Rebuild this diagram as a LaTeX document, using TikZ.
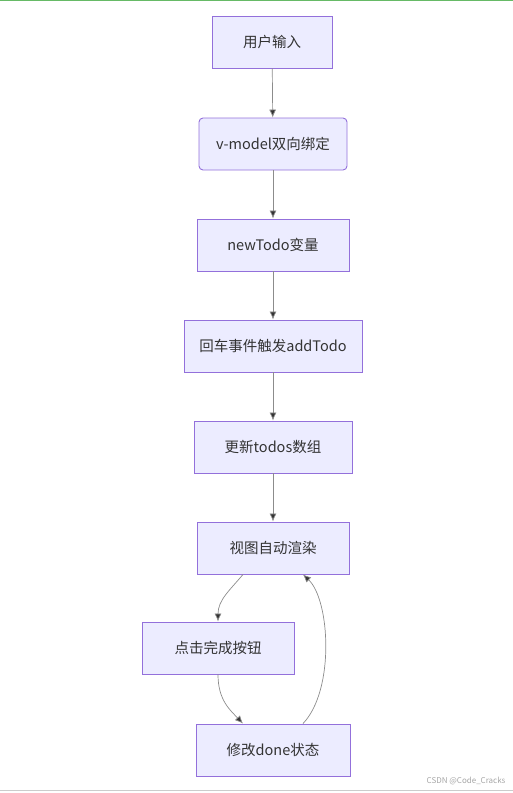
\documentclass[tikz,border=0pt]{standalone}
\usepackage{fontspec}
\setmainfont{Noto Sans CJK SC}
\usetikzlibrary{arrows.meta}

\definecolor{boxfill}{HTML}{ECECFF}
\definecolor{boxline}{HTML}{9370DB}
\definecolor{edgeline}{HTML}{8C8C8C}

\begin{document}
\begin{tikzpicture}[x=1pt, y=-1pt,
  stepbox/.style={draw=boxline, fill=boxfill, line width=0.9pt, minimum height=52pt,
    inner sep=0pt, font=\fontsize{14.5}{17}\selectfont, text=black!80},
  flow/.style={draw=edgeline, line width=0.7pt, -{Latex[length=8pt, width=7pt, fill=black!80]}}]
\useasboundingbox (0, 0) rectangle (513, 793);
\draw[green!55!black!60, line width=1pt] (0, 0.5) -- (513, 0.5);
\draw[black!20, line width=1pt] (0, 790) -- (513, 790);

\node[stepbox, minimum width=120pt] (input) at (272, 42) {用户输入};
\node[stepbox, minimum width=148pt, rounded corners=4pt] (vmodel) at (273, 144) {v-model双向绑定};
\node[stepbox, minimum width=152pt] (newtodo) at (273, 245) {newTodo变量};
\node[stepbox, minimum width=178pt] (enter) at (273, 346) {回车事件触发addTodo};
\node[stepbox, minimum width=158pt] (update) at (273, 447) {更新todos数组};
\node[stepbox, minimum width=152pt] (render) at (273, 548) {视图自动渲染};
\node[stepbox, minimum width=152pt] (click) at (218, 648) {点击完成按钮};
\node[stepbox, minimum width=154pt] (done) at (273, 750) {修改done状态};

\draw[flow] (input) -- (vmodel);
\draw[flow] (vmodel) -- (newtodo);
\draw[flow] (newtodo) -- (enter);
\draw[flow] (enter) -- (update);
\draw[flow] (update) -- (render);
\draw[flow] ([xshift=-30pt]render.south) .. controls (230, 590) and (218, 600) .. (click.north);
\draw[flow] (click.south) .. controls (218, 700) and (230, 710) .. ([xshift=-30pt]done.north);
\draw[flow] ([xshift=30pt]done.north) .. controls (335, 690) and (330, 600) .. ([xshift=30pt]render.south);

\node[text=black!35, font=\fontsize{8}{9}\selectfont, anchor=east] (mark) at (509, 781) {CSDN @Code\_Cracks};
\end{tikzpicture}
\end{document}
